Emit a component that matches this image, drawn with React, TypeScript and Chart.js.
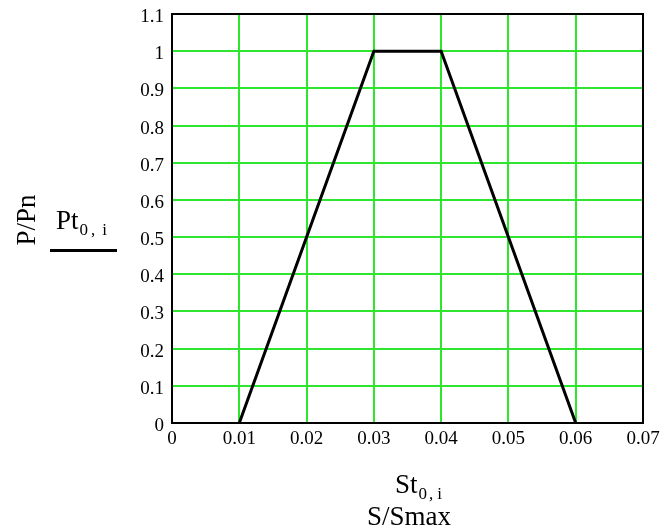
import React, { useEffect, useRef } from "react";
import { Chart, registerables } from "chart.js";

Chart.register(...registerables);

const xValues = [0.01, 0.03, 0.04, 0.06];
const yValues = [0, 1, 1, 0];
const xTicks = [0, 0.01, 0.02, 0.03, 0.04, 0.05, 0.06, 0.07];
const yTicks = [0, 0.1, 0.2, 0.3, 0.4, 0.5, 0.6, 0.7, 0.8, 0.9, 1, 1.1];

const FONT = "'Liberation Serif', 'Times New Roman', serif";
const GREEN = "#2ee62e";

function subText(ctx: any, main: string, x: number, y: number, gaps: number[]) {
  ctx.font = `27px ${FONT}`;
  ctx.fillText(main, x, y);
  let cx = x + ctx.measureText(main).width + gaps[0];
  ctx.font = `17px ${FONT}`;
  const parts = ["0", ",", "i"];
  parts.forEach((s, i) => {
    ctx.fillText(s, cx, y + 6);
    cx += ctx.measureText(s).width + (gaps[i + 1] || 0);
  });
}

const decorPlugin = {
  id: "decor",
  afterDatasetsDraw(chart: any) {
    const { ctx, chartArea } = chart;
    ctx.save();
    ctx.strokeStyle = "#000";
    ctx.lineWidth = 2;
    ctx.strokeRect(chartArea.left, chartArea.top, chartArea.right - chartArea.left, chartArea.bottom - chartArea.top);

    ctx.fillStyle = "#000";
    ctx.textBaseline = "alphabetic";
    // y axis title rotated
    ctx.save();
    ctx.translate(35, 220);
    ctx.rotate(-Math.PI / 2);
    ctx.font = `27px ${FONT}`;
    ctx.textAlign = "center";
    ctx.fillText("P/Pn", 0, 0);
    ctx.restore();

    ctx.textAlign = "left";
    // legend-like label Pt0,i
    subText(ctx, "Pt", 56, 229, [1, 3, 7]);
    ctx.fillRect(50, 249, 67, 3);

    // x axis title
    subText(ctx, "St", 395, 493, [1, 2, 4]);
    ctx.font = `27px ${FONT}`;
    ctx.fillText("S/Smax", 367, 525);
    ctx.restore();
  },
};

export default function App() {
  const ref = useRef<HTMLCanvasElement | null>(null);
  useEffect(() => {
    if (!ref.current) return;
    const chart = new Chart(ref.current, {
      type: "line",
      data: {
        datasets: [
          {
            data: xValues.map((x, i) => ({ x, y: yValues[i] })),
            borderColor: "#000",
            borderWidth: 3,
            pointRadius: 0,
            fill: false,
            tension: 0,
          },
        ],
      },
      options: {
        responsive: false,
        animation: false,
        events: [],
        layout: { padding: { left: 0, top: 14, right: 23, bottom: 0 } },
        plugins: { legend: { display: false }, tooltip: { enabled: false } },
        scales: {
          x: {
            type: "linear",
            min: 0,
            max: 0.07,
            afterFit: (s: any) => { s.height = 107; s.paddingLeft = 0; s.paddingRight = 0; },
            afterBuildTicks: (s: any) => { s.ticks = xTicks.map((v) => ({ value: v })); },
            grid: { color: GREEN, lineWidth: 2, drawTicks: false },
            border: { display: false },
            ticks: {
              padding: 5,
              color: "#000",
              font: { family: FONT, size: 19 },
              maxRotation: 0,
              callback: (v: any) => String(Math.round(Number(v) * 100) / 100),
            },
          },
          y: {
            type: "linear",
            min: 0,
            max: 1.1,
            afterFit: (s: any) => { s.width = 172; s.paddingTop = 0; s.paddingBottom = 0; },
            afterBuildTicks: (s: any) => { s.ticks = yTicks.map((v) => ({ value: v })); },
            grid: { color: GREEN, lineWidth: 2, drawTicks: false },
            border: { display: false },
            ticks: {
              padding: 8,
              labelOffset: 3,
              color: "#000",
              font: { family: FONT, size: 19 },
              callback: (v: any) => String(Math.round(Number(v) * 10) / 10),
            },
          },
        },
      },
      plugins: [decorPlugin],
    });
    return () => chart.destroy();
  }, []);
  return (
    <div style={{ position: "absolute", left: 0, top: 0, width: 666, height: 530, background: "#fff" }}>
      <canvas ref={ref} width={666} height={530} style={{ width: 666, height: 530 }} />
    </div>
  );
}
